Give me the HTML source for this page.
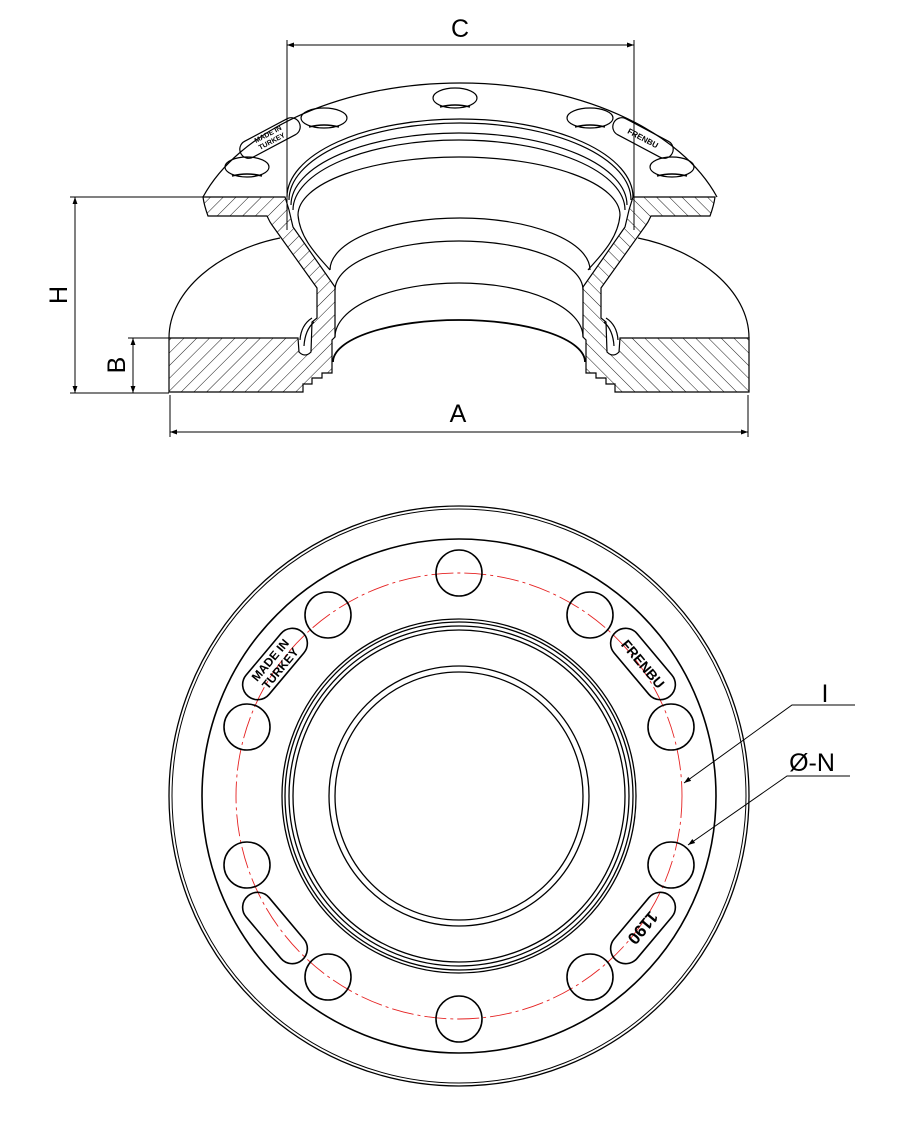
<!DOCTYPE html>
<html><head><meta charset="utf-8"><style>
html,body{margin:0;padding:0;background:#fff;}
svg{display:block;}
text{font-family:"Liberation Sans",sans-serif;}
</style></head><body>
<svg width="906" height="1140" viewBox="0 0 906 1140" xmlns="http://www.w3.org/2000/svg">
<defs>
<pattern id="hatch" patternUnits="userSpaceOnUse" width="9" height="9" patternTransform="rotate(45)">
<line x1="0" y1="0" x2="0" y2="9" stroke="#000" stroke-width="0.9"/>
</pattern>
<marker id="arr" viewBox="0 0 10 10" refX="10" refY="5" markerWidth="10" markerHeight="7" orient="auto-start-reverse" markerUnits="userSpaceOnUse">
<path d="M0,1.5 L10,5 L0,8.5 Z" fill="#000"/>
</marker>
<g id="half" fill="none" stroke="#000" stroke-width="1.2">
<path d="M203,197 L285,197 L289,210 L293,227 L335,287 L335,337 L332,340 L332,373 L322,373 L322,378 L312,378 L312,384 L303,384 L303,392 L169,392 L169,338 L298,338 L299,352 Q305,358 311,352 L312,322 L317,318 L317,288 L272,225 L270,222 L267,216 L208,216 Q204,205 203,197 Z" fill="url(#hatch)"/>
<path d="M300,340 Q301,325 312,318 M304,346 Q305,330 314,322"/>
<path d="M169,338 C169,290 220,250 280,238"/>
<path d="M298,215 C300,240 320,258 330,270"/>
</g>
</defs>

<!-- TOP VIEW -->
<g fill="none" stroke="#000" stroke-width="1.2">
<use href="#half"/>
<use href="#half" transform="translate(918,0) scale(-1,1)"/>
<path d="M203,197 A271,167 0 0 1 717,197"/>
<!-- hub rim arcs -->
<path d="M287,197 A173,78 0 0 1 633,197"/>
<path d="M289,200 A171,77 0 0 1 631,200"/>
<path d="M291,205 A168,72 0 0 1 627,205"/>
<path d="M293,210 A166,70 0 0 1 625,210"/>
<path d="M298,215 A161,58 0 0 1 620,215"/>
<path d="M330,270 A130,52 0 0 1 590,270"/>
<path d="M335,290 A124,49 0 0 1 583,290"/>
<path d="M335,337 A124,54 0 0 1 583,337"/>
<path d="M333,362 A126,42 0 0 1 585,362" stroke-width="1.8"/>
<!-- holes -->
<ellipse cx="455" cy="98" rx="22" ry="10"/>
<ellipse cx="324" cy="118" rx="23" ry="10"/>
<ellipse cx="590" cy="118" rx="23" ry="10"/>
<ellipse cx="247" cy="167" rx="22" ry="10"/>
<ellipse cx="672" cy="167" rx="22" ry="10"/>
<path d="M440,107 Q455,103 470,107 M309,127 Q324,123 339,127 M575,127 Q590,123 605,127 M232,176 Q247,172 262,176 M657,176 Q672,172 687,176" stroke-width="1.6"/>
<rect x="-33" y="-9" width="66" height="18" rx="9" transform="translate(270,138) rotate(-28)"/>
<rect x="-33" y="-9" width="66" height="18" rx="9" transform="translate(643,138) rotate(28)"/>
</g>
<text x="270" y="136" font-size="7" font-weight="bold" text-anchor="middle" transform="rotate(-28 270 138)">MADE IN</text>
<text x="270" y="144" font-size="7" font-weight="bold" text-anchor="middle" transform="rotate(-28 270 138)">TURKEY</text>
<text x="643" y="141" font-size="8" font-weight="bold" text-anchor="middle" transform="rotate(28 643 138)">FRENBU</text>

<!-- dimensions -->
<g stroke="#000" stroke-width="1" fill="none">
<line x1="287" y1="40" x2="287" y2="230"/>
<line x1="634" y1="40" x2="634" y2="230"/>
<line x1="287" y1="45" x2="634" y2="45" marker-start="url(#arr)" marker-end="url(#arr)"/>
<line x1="170" y1="395" x2="170" y2="437"/>
<line x1="748" y1="395" x2="748" y2="437"/>
<line x1="170" y1="432" x2="748" y2="432" marker-start="url(#arr)" marker-end="url(#arr)"/>
<line x1="70" y1="197" x2="203" y2="197"/>
<line x1="70" y1="393" x2="169" y2="393"/>
<line x1="75" y1="197" x2="75" y2="393" marker-start="url(#arr)" marker-end="url(#arr)"/>
<line x1="128" y1="338" x2="169" y2="338"/>
<line x1="133" y1="338" x2="133" y2="393" marker-start="url(#arr)" marker-end="url(#arr)"/>
</g>
<text x="460" y="37" font-size="25" text-anchor="middle">C</text>
<text x="458" y="422" font-size="25" text-anchor="middle">A</text>
<text x="0" y="0" font-size="25" text-anchor="middle" transform="translate(67,295) rotate(-90)">H</text>
<text x="0" y="0" font-size="25" text-anchor="middle" transform="translate(125,365) rotate(-90)">B</text>

<!-- BOTTOM VIEW -->
<g fill="none" stroke="#000" stroke-width="1.3">
<circle cx="459" cy="796" r="290"/>
<circle cx="459" cy="796" r="287" stroke-width="1"/>
<circle cx="459" cy="796" r="257" stroke-width="1.6"/>
<circle cx="459" cy="796" r="177"/>
<circle cx="459" cy="796" r="174"/>
<circle cx="459" cy="796" r="170"/>
<circle cx="459" cy="796" r="166"/>
<circle cx="459" cy="796" r="130"/>
<circle cx="459" cy="796" r="124"/>
</g>
<circle cx="459" cy="796" r="223" fill="none" stroke="#e52222" stroke-width="0.9" stroke-dasharray="22,4,3,4"/>
<g fill="none" stroke="#000" stroke-width="1.6">
<circle cx="459" cy="573" r="23"/>
<circle cx="590" cy="615" r="23"/>
<circle cx="671" cy="727" r="23"/>
<circle cx="671" cy="865" r="23"/>
<circle cx="590" cy="977" r="23"/>
<circle cx="459" cy="1019" r="23"/>
<circle cx="328" cy="977" r="23"/>
<circle cx="247" cy="865" r="23"/>
<circle cx="247" cy="727" r="23"/>
<circle cx="328" cy="615" r="23"/>
<rect x="-42" y="-15" width="84" height="30" rx="15" transform="translate(275,664) rotate(-50)"/>
<rect x="-42" y="-15" width="84" height="30" rx="15" transform="translate(643,664) rotate(50)"/>
<rect x="-42" y="-15" width="84" height="30" rx="15" transform="translate(643,928) rotate(-50)"/>
<rect x="-42" y="-15" width="84" height="30" rx="15" transform="translate(275,928) rotate(50)"/>
</g>
<g font-weight="bold" text-anchor="middle" fill="#000">
<text x="0" y="-2" font-size="12" transform="translate(275,664) rotate(-50)">MADE IN</text>
<text x="0" y="11" font-size="12" transform="translate(275,664) rotate(-50)">TURKEY</text>
<text x="0" y="5" font-size="14" transform="translate(643,664) rotate(50)">FRENBU</text>
<text x="0" y="6" font-size="17" transform="translate(643,928) rotate(130)">1190</text>
</g>
<!-- leaders -->
<g stroke="#000" stroke-width="1" fill="none">
<polyline points="855,705 792,705 684,783" marker-end="url(#arr)"/>
<polyline points="850,776 787,776 688,845" marker-end="url(#arr)"/>
</g>
<text x="825" y="702" font-size="25" text-anchor="middle">I</text>
<text x="812" y="771" font-size="25" text-anchor="middle">Ø-N</text>
</svg>
</body></html>
